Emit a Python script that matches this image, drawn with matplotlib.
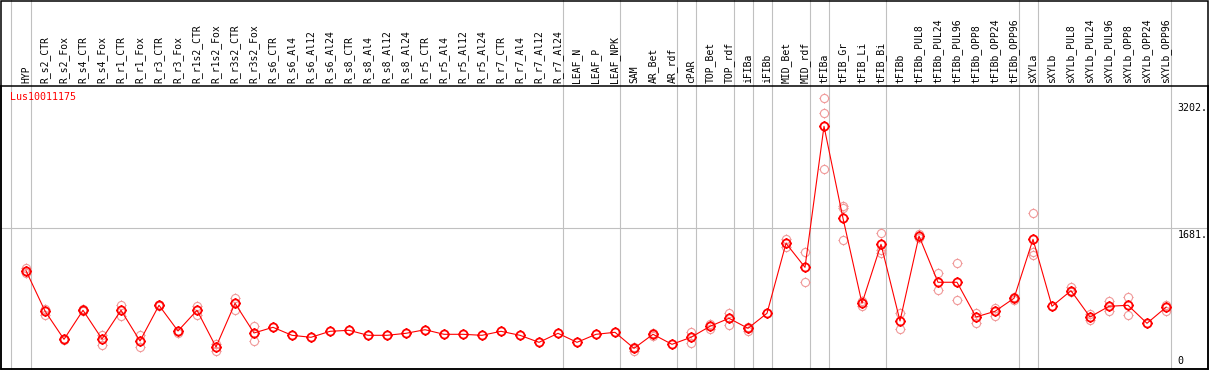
import matplotlib
matplotlib.use("Agg")
import matplotlib.pyplot as plt
import matplotlib.path as mpath
import matplotlib.transforms as mtransforms

# ---------------- data ----------------
categories = [
    "HYP", "R_s2_CTR", "R_s2_Fox", "R_s4_CTR", "R_s4_Fox", "R_r1_CTR", "R_r1_Fox",
    "R_r3_CTR", "R_r3_Fox", "R_r1s2_CTR", "R_r1s2_Fox", "R_r3s2_CTR", "R_r3s2_Fox",
    "R_s6_CTR", "R_s6_Al4", "R_s6_Al12", "R_s6_Al24", "R_s8_CTR", "R_s8_Al4",
    "R_s8_Al12", "R_s8_Al24", "R_r5_CTR", "R_r5_Al4", "R_r5_Al12", "R_r5_Al24",
    "R_r7_CTR", "R_r7_Al4", "R_r7_Al12", "R_r7_Al24", "LEAF_N", "LEAF_P", "LEAF_NPK",
    "SAM", "AR_Bet", "AR_rdf", "cPAR", "TOP_Bet", "TOP_rdf", "iFIBa", "iFIBb",
    "MID_Bet", "MID_rdf", "tFIBa", "tFIB_Gr", "tFIB_Li", "tFIB_Bi", "tFIBb",
    "tFIBb_PUL8", "tFIBb_PUL24", "tFIBb_PUL96", "tFIBb_OPP8", "tFIBb_OPP24",
    "tFIBb_OPP96", "sXYLa", "sXYLb", "sXYLb_PUL8", "sXYLb_PUL24", "sXYLb_PUL96",
    "sXYLb_OPP8", "sXYLb_OPP24", "sXYLb_OPP96",
]

means = [
    1173, 689, 350, 698, 354, 698, 330, 758, 450, 698, 258, 782, 426,
    494, 398, 374, 446, 458, 398, 398, 422, 465, 410, 410, 398,
    446, 398, 314, 422, 314, 410, 434,
    242, 410, 290, 374, 506, 602, 482, 662,
    1501, 1213, 2904, 1801, 782, 1489, 570,
    1589, 1034, 1034, 618, 686, 842,
    1549, 746, 933, 618, 746, 758, 542, 734,
]

replicates = [
    [1205, 1145, 1170], [713, 641], [354, 346], [713, 689], [402, 282], [761, 629],
    [402, 261], [761, 755], [450, 426], [753, 638], [290, 210], [849, 701], [513, 330],
    [], [], [], [], [], [], [], [], [], [], [], [],
    [], [], [], [], [], [], [],
    [261, 213], [429, 390], [], [434, 309], [534, 477], [669, 525], [501, 453], [],
    [1549, 1460], [1393, 1034], [3240, 3060, 2396], [1952, 1928, 1537], [813, 749],
    [1621, 1421, 1388], [669, 477],
    [1613, 1561], [1141, 938], [1261, 818], [669, 549], [722, 633], [861, 821],
    [1861, 1397, 1357], [], [974, 914], [653, 578], [809, 686], [861, 638], [], [761, 693],
]

group_ends = [-1.05, 0, 28, 31, 34, 35, 37, 38, 39, 41, 42, 45, 52, 53, 60]
ytick_values = [3202, 1681, 0]
ytick_labels = ["3202.", "1681.", "0"]
gene_id = "Lus10011175"

# ---------------- layout ----------------
W, H = 1209, 370
fig = plt.figure(figsize=(W / 100, H / 100), dpi=100)
fig.patch.set_facecolor("white")

ax_top_px, ax_bot_px = 85.5, 369.0
ax = fig.add_axes([1 / W, 1 - ax_bot_px / H, 1207 / W, (ax_bot_px - ax_top_px) / H])
x0_px, step_px = 26.0, 19.0
ax.set_xlim((1 - x0_px) / step_px, (1208 - x0_px) / step_px)
zero_px, k = 368.5, 0.0834
ax.set_ylim((zero_px - ax_bot_px) / k, (zero_px - ax_top_px) / k)
ax.set_xticks([])
ax.set_yticks([])
for s in ax.spines.values():
    s.set_color("black")
    s.set_linewidth(1.1)
ax.set_facecolor("white")

grey = "#c0c0c0"
# vertical group separators spanning whole figure height
blend = mtransforms.blended_transform_factory(ax.transData, fig.transFigure)
for g in group_ends:
    ax.plot([g + 0.25, g + 0.25], [0, 1], color=grey, lw=0.8, transform=blend,
            clip_on=False, zorder=0.5)
# horizontal grid line
ax.axhline(ytick_values[1], color=grey, lw=0.8, zorder=0.5)

# outer border
border = plt.Rectangle((1 / W, 1 / H), 1207 / W, (H - 1.5) / H, transform=fig.transFigure,
                       fill=False, edgecolor="black", lw=1.1)
fig.patches.append(border)

# custom marker: circle with 4 small stubs
circ = mpath.Path.unit_circle()
verts = list(circ.vertices)
codes = list(circ.codes)
for dx, dy in [(1, 0), (-1, 0), (0, 1), (0, -1)]:
    verts += [(dx * 1.0, dy * 1.0), (dx * 1.25, dy * 1.25)]
    codes += [mpath.Path.MOVETO, mpath.Path.LINETO]
marker = mpath.Path(verts, codes)

xs = list(range(len(categories)))
# replicates
rx, ry = [], []
for i, reps in enumerate(replicates):
    for r in reps:
        rx.append(i)
        ry.append(r)
ax.plot(rx, ry, linestyle="none", marker=marker, markersize=7.3, markerfacecolor="none",
        markeredgecolor="#f09a9a", markeredgewidth=0.8, zorder=2)
# mean line & markers
ax.plot(xs, means, color="#ff0000", lw=0.8, zorder=3)
ax.plot(xs, means, linestyle="none", marker=marker, markersize=7.3, markerfacecolor="none",
        markeredgecolor="#ff0000", markeredgewidth=1.3, zorder=4)

mono = "DejaVu Sans Mono"
# category labels
lab_tr = mtransforms.blended_transform_factory(ax.transData, fig.transFigure)
for i, c in enumerate(categories):
    fig.text(i, 1 - 83.0 / H, c, rotation=90, ha="center", va="bottom",
             fontsize=7, family=mono, transform=lab_tr)

# gene id
ax.text(9 / 1207, 1 - (92.0 - ax_top_px) / (ax_bot_px - ax_top_px), gene_id,
        transform=ax.transAxes, color="#ff0000", fontsize=7.2, family=mono,
        ha="left", va="top")

# right-side value labels
ylab_tr = mtransforms.blended_transform_factory(ax.transAxes, ax.transData)
off_down = mtransforms.ScaledTranslation(0, -2.0 / 100, fig.dpi_scale_trans)
off_up = mtransforms.ScaledTranslation(0, 3.0 / 100, fig.dpi_scale_trans)
xl = (1177.5 - 1) / 1207
for v, t in zip(ytick_values, ytick_labels):
    if v > 0:
        ax.text(xl, v, t, transform=ylab_tr + off_down, fontsize=7.2, family=mono,
                ha="left", va="top")
    else:
        ax.text(xl, v, t, transform=ylab_tr + off_up, fontsize=7.2, family=mono,
                ha="left", va="bottom")

fig.savefig("out.png", dpi=100)
